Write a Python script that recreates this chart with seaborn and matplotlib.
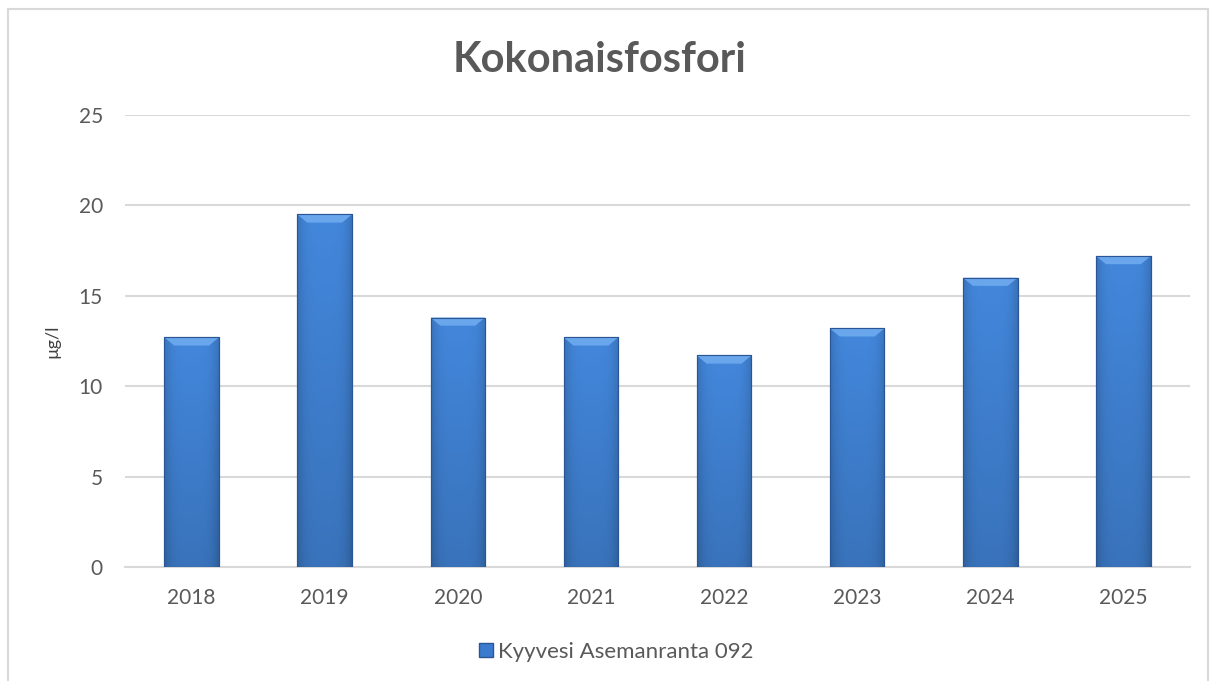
import matplotlib
matplotlib.use("Agg")
import matplotlib.pyplot as plt
import matplotlib.patches as mpatches
import numpy as np
import pandas as pd
import seaborn as sns

# Kokonaisfosfori, Kyyvesi Asemanranta 092
years = ["2018", "2019", "2020", "2021", "2022", "2023", "2024", "2025"]
fosfori = [12.7, 19.5, 13.8, 12.7, 11.7, 13.2, 16.0, 17.2]
series_name = "Kyyvesi Asemanranta 092"
y_ticks = [0, 5, 10, 15, 20, 25]

df = pd.DataFrame({"vuosi": years, "fosfori": fosfori})

sns.set_theme(style="white")
plt.rcParams["font.family"] = ["Lato", "DejaVu Sans"]

text_grey = "#595959"
bar_blue = "#3b7bcf"

fig = plt.figure(figsize=(12.21, 6.81), dpi=100)
ax = fig.add_axes([0.1024, 0.1674, 0.8722, 0.6637])

sns.barplot(data=df, x="vuosi", y="fosfori", color=bar_blue, width=0.41,
            edgecolor="#2a5696", linewidth=0.8, saturation=1, ax=ax, zorder=3)

# Excel-style shading: gradient clipped to each bar (darker towards the bottom)
grad_v = np.linspace(0, 1, 100)[:, None]
grad_h = np.linspace(-1, 1, 60)[None, :]
shade = 0.85 + 0.15 * (1 - grad_h ** 4) - 0.15 * grad_v
base = np.array(matplotlib.colors.to_rgb("#4387dc"))
img = np.clip(shade[..., None] * base, 0, 1)
for p in ax.patches:
    x0, y0 = p.get_x(), p.get_y()
    w, h = p.get_width(), p.get_height()
    im = ax.imshow(img, extent=[x0, x0 + w, y0, y0 + h], aspect="auto",
                   origin="upper", zorder=3.5)
    im.set_clip_path(p)
    # light bevel on top
    bevel = mpatches.Polygon([[x0, y0 + h], [x0 + w, y0 + h],
                              [x0 + w * 0.82, y0 + h - 0.45],
                              [x0 + w * 0.18, y0 + h - 0.45]],
                             closed=True, color="#6aa6ec", zorder=4, lw=0)
    ax.add_patch(bevel)
    ax.add_patch(mpatches.Rectangle((x0, y0), w, h, fill=False,
                                    ec="#2a5696", lw=0.8, zorder=4.5))

ax.set_xlim(-0.5, len(years) - 0.5)
ax.set_ylim(0, 25)
ax.set_yticks(y_ticks)
ax.yaxis.grid(True, color="#d9d9d9", linewidth=1.5, zorder=0)
ax.set_axisbelow(True)
for s in ["top", "right", "left"]:
    ax.spines[s].set_visible(False)
ax.spines["bottom"].set_color("#d9d9d9")
ax.spines["bottom"].set_linewidth(1.5)
ax.tick_params(axis="both", length=0, labelsize=15, colors=text_grey)
ax.tick_params(axis="y", pad=16)
ax.tick_params(axis="x", pad=15)
ax.set_xlabel("")
ax.set_ylabel("µg/l", fontsize=13, color="#404040")
ax.yaxis.set_label_coords(-0.061, 0.5)

fig.text(0.491, 0.912, "Kokonaisfosfori", ha="center", va="center",
         fontsize=30, fontweight="bold", color=text_grey)

handle = mpatches.Patch(facecolor=bar_blue, edgecolor="#2a5696", label=series_name)
fig.legend(handles=[handle], loc="center", bbox_to_anchor=(0.505, 0.043),
           frameon=False, fontsize=16, handlelength=0.6, handleheight=0.6,
           handletextpad=0.25, labelcolor=text_grey)

# chart border
fig.patches.append(mpatches.Rectangle((8 / 1221, -0.05), 1200 / 1221, 1.037,
                                      transform=fig.transFigure, fill=False,
                                      ec="#d9d9d9", lw=1.5))

fig.savefig("out.png", dpi=100, facecolor="white")
